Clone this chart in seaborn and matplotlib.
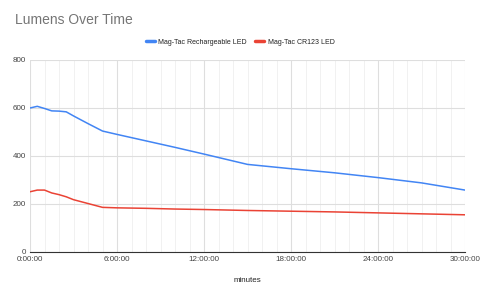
import matplotlib
matplotlib.use("Agg")
import matplotlib.pyplot as plt
import seaborn as sns
import pandas as pd
from matplotlib.ticker import MultipleLocator, FuncFormatter
from matplotlib.lines import Line2D

hours = [0, 0.5, 1, 1.5, 2, 2.5, 3, 4, 5, 6, 8, 10, 12, 15, 18, 21, 24, 27, 30]
rechargeable = [600, 607, 598, 588, 587, 584, 567, 535, 504, 490, 463, 436, 408, 365, 347, 330, 310, 288, 258]
cr123 = [251, 258, 258, 246, 239, 230, 218, 202, 186, 184, 182, 179, 177, 173, 170, 167, 163, 159, 155]
series_names = ["Mag-Tac Rechargeable LED", "Mag-Tac CR123 LED"]
colors = ["#4285F4", "#EA4335"]

df = pd.concat([
    pd.DataFrame({"hours": hours, "lumens": rechargeable, "series": series_names[0]}),
    pd.DataFrame({"hours": hours, "lumens": cr123, "series": series_names[1]}),
])

sns.set_theme(style="white")
plt.rcParams['font.family'] = ['Liberation Sans', 'DejaVu Sans']

fig = plt.figure(figsize=(4.8, 2.97), dpi=100)
ax = fig.add_axes([30/480, 1-252/297, 435/480, 192/297])
sns.lineplot(data=df, x="hours", y="lumens", hue="series", palette=colors,
             linewidth=1.1, ax=ax, legend=False)

ax.set_xlim(0, 30)
ax.set_ylim(0, 800)
ax.xaxis.set_major_locator(MultipleLocator(6))
ax.xaxis.set_minor_locator(MultipleLocator(1))
ax.yaxis.set_major_locator(MultipleLocator(200))
ax.xaxis.set_major_formatter(FuncFormatter(lambda v, p: f"{int(v)}:00:00"))
ax.grid(True, which="major", color="#dedede", linewidth=0.8)
ax.grid(True, which="minor", axis="x", color="#efefef", linewidth=0.6)
ax.set_axisbelow(True)
for s in ["top", "right", "left"]:
    ax.spines[s].set_visible(False)
ax.spines["bottom"].set_color("#333333")
ax.spines["bottom"].set_linewidth(0.8)
ax.tick_params(axis="both", which="both", length=0, labelsize=5.8, labelcolor="#444444", pad=3)
ax.set_xlabel("minutes", fontsize=5.8, color="#222222", labelpad=10)
ax.set_ylabel("")

fig.text(15/480, 1-20/297, "Lumens Over Time", fontsize=10, color="#757575", va="center", ha="left")

handles = [Line2D([0], [0], color=c, linewidth=2.5) for c in colors]
fig.legend(handles, series_names, loc="center", bbox_to_anchor=(0.5, 1-42/297), ncol=2,
           frameon=False, fontsize=5.0, handlelength=1.3, columnspacing=1.3, handletextpad=0.45,
           labelcolor="#222222")

fig.savefig("out.png", dpi=100)
